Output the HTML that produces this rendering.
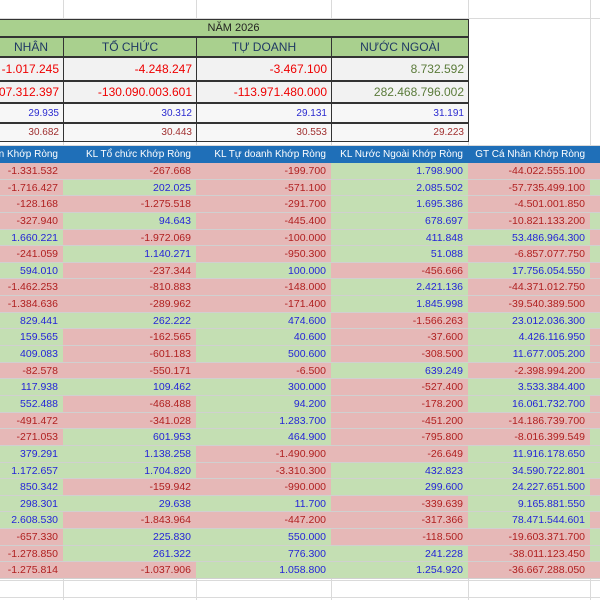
<!DOCTYPE html>
<html><head><meta charset="utf-8"><style>
body{margin:0;width:600px;height:600px;overflow:hidden;background:#fff;font-family:"Liberation Sans",sans-serif;position:relative}
#root{position:absolute;left:0;top:0;width:600px;height:600px;overflow:hidden}
.c{position:absolute;box-sizing:border-box;white-space:nowrap;overflow:hidden;font-size:11px;display:flex;align-items:center;}
.g{position:absolute;background:#dadada}
</style></head><body>
<div id="root"></div>
<script>
const cols=[[0,63],[63,196],[196,331],[331,468],[468,590],[590,600]];
const topHeaders=["NHÂN","TỔ CHỨC","TỰ DOANH","NƯỚC NGOÀI"];
const topRow1=["-1.017.245","-4.248.247","-3.467.100","8.732.592"];
const topRow2=["-107.312.397","-130.090.003.601","-113.971.480.000","282.468.796.002"];
const topRow3=["29.935","30.312","29.131","31.191"];
const topRow4=["30.682","30.443","30.553","29.223"];
const tableHeaders=["KL Cá Nhân Khớp Ròng","KL Tổ chức Khớp Ròng","KL Tự doanh Khớp Ròng","KL Nước Ngoài Khớp Ròng","GT Cá Nhân Khớp Ròng",""];
const klCaNhan=["-1.331.532","-1.716.427","-128.168","-327.940","1.660.221","-241.059","594.010","-1.462.253","-1.384.636","829.441","159.565","409.083","-82.578","117.938","552.488","-491.472","-271.053","379.291","1.172.657","850.342","298.301","2.608.530","-657.330","-1.278.850","-1.275.814"];
const klToChuc=["-267.668","202.025","-1.275.518","94.643","-1.972.069","1.140.271","-237.344","-810.883","-289.962","262.222","-162.565","-601.183","-550.171","109.462","-468.488","-341.028","601.953","1.138.258","1.704.820","-159.942","29.638","-1.843.964","225.830","261.322","-1.037.906"];
const klTuDoanh=["-199.700","-571.100","-291.700","-445.400","-100.000","-950.300","100.000","-148.000","-171.400","474.600","40.600","500.600","-6.500","300.000","94.200","1.283.700","464.900","-1.490.900","-3.310.300","-990.000","11.700","-447.200","550.000","776.300","1.058.800"];
const klNuocNgoai=["1.798.900","2.085.502","1.695.386","678.697","411.848","51.088","-456.666","2.421.136","1.845.998","-1.566.263","-37.600","-308.500","639.249","-527.400","-178.200","-451.200","-795.800","-26.649","432.823","299.600","-339.639","-317.366","-118.500","241.228","1.254.920"];
const gtCaNhan=["-44.022.555.100","-57.735.499.100","-4.501.001.850","-10.821.133.200","53.486.964.300","-6.857.077.750","17.756.054.550","-44.371.012.750","-39.540.389.500","23.012.036.300","4.426.116.950","11.677.005.200","-2.398.994.200","3.533.384.400","16.061.732.700","-14.186.739.700","-8.016.399.549","11.916.178.650","34.590.722.801","24.227.651.500","9.165.881.550","78.471.544.601","-19.603.371.700","-38.011.123.450","-36.667.288.050"];
const root=document.getElementById('root');
function cell(x,y,w,h,txt,st,name,al){const d=document.createElement('div');d.className='c';d.style.cssText=`left:${x}px;top:${y}px;width:${w}px;height:${h}px;justify-content:${al||'flex-end'};`+st;
const s=document.createElement('span');s.textContent=txt;s.style.flexShrink='0';d.appendChild(s);


root.appendChild(d);return d;}
for(const c of cols){const g=document.createElement('div');g.className='g';g.style.cssText=`left:${c[1]}px;top:0;width:1px;height:600px`;


root.appendChild(g);}
[18,145,580,597].forEach(y=>{const g=document.createElement('div');g.className='g';g.style.cssText=`left:0;top:${y}px;width:600px;height:1px`;


root.appendChild(g);});
cell(-2,19,471,18,"NĂM 2026","background:#a9d08e;border:1px solid #333;font-size:11px;color:#222;","year-header","center");
const tr=[[37,20],[57,24],[81,22],[103,20],[123,19]];
for(let i=0;i<4;i++){let[x0,x1]=cols[i];if(i==0)x0=-2;const w=x1-x0+1;
cell(x0,tr[0][0],w,tr[0][1],topHeaders[i],"background:#a9d08e;border:1px solid #333;font-size:12px;color:#1f3864;","top-header","center");
const r1=topRow1[i],r2=topRow2[i];
cell(x0,tr[1][0],w,tr[1][1],r1,`background:#f2f2f2;border:1px solid #333;padding-right:4px;font-size:12px;color:${r1[0]=='-'?'#e00':'#5b7b3a'};`,"total-volume");
cell(x0,tr[2][0],w,tr[2][1],r2,`background:#f2f2f2;border:1px solid #333;padding-right:4px;font-size:12px;color:${r2[0]=='-'?'#e00':'#5b7b3a'};`,"total-value");
cell(x0,tr[3][0],w,tr[3][1],topRow3[i],"background:#f7f7f7;border:1px solid #333;padding-right:4px;font-size:10px;color:#2b2bd0;","avg-buy");
cell(x0,tr[4][0],w,tr[4][1],topRow4[i],"background:#f7f7f7;border:1px solid #333;padding-right:4px;font-size:10px;color:#a03030;","avg-sell");}
const series=[klCaNhan,klToChuc,klTuDoanh,klNuocNgoai,gtCaNhan,klToChuc];
const y0=146,hh=17,rh=16.64;
for(let i=0;i<6;i++){const[x0,x1]=cols[i];const w=x1-x0+1;
cell(x0,y0,w,hh,tableHeaders[i],"background:#1f6fb8;color:#fff;border-right:1px solid #0b3d70;padding-right:5px;font-size:10px;","table-header");
series[i].forEach((v,r)=>{const neg=v[0]=='-';const y=Math.round(y0+hh+r*rh);const h=Math.round(y0+hh+(r+1)*rh)-y;
cell(x0,y,w,h,i==5?"":v,`background:${neg?'#e6b8b7':'#c4dfb3'};color:${neg?'#b02020':'#2424d8'};border-right:1px solid #bbb;border-bottom:1px solid #d0d0d0;padding-right:5px;font-size:10.5px;`,"data-cell");});}
</script>
</body></html>
